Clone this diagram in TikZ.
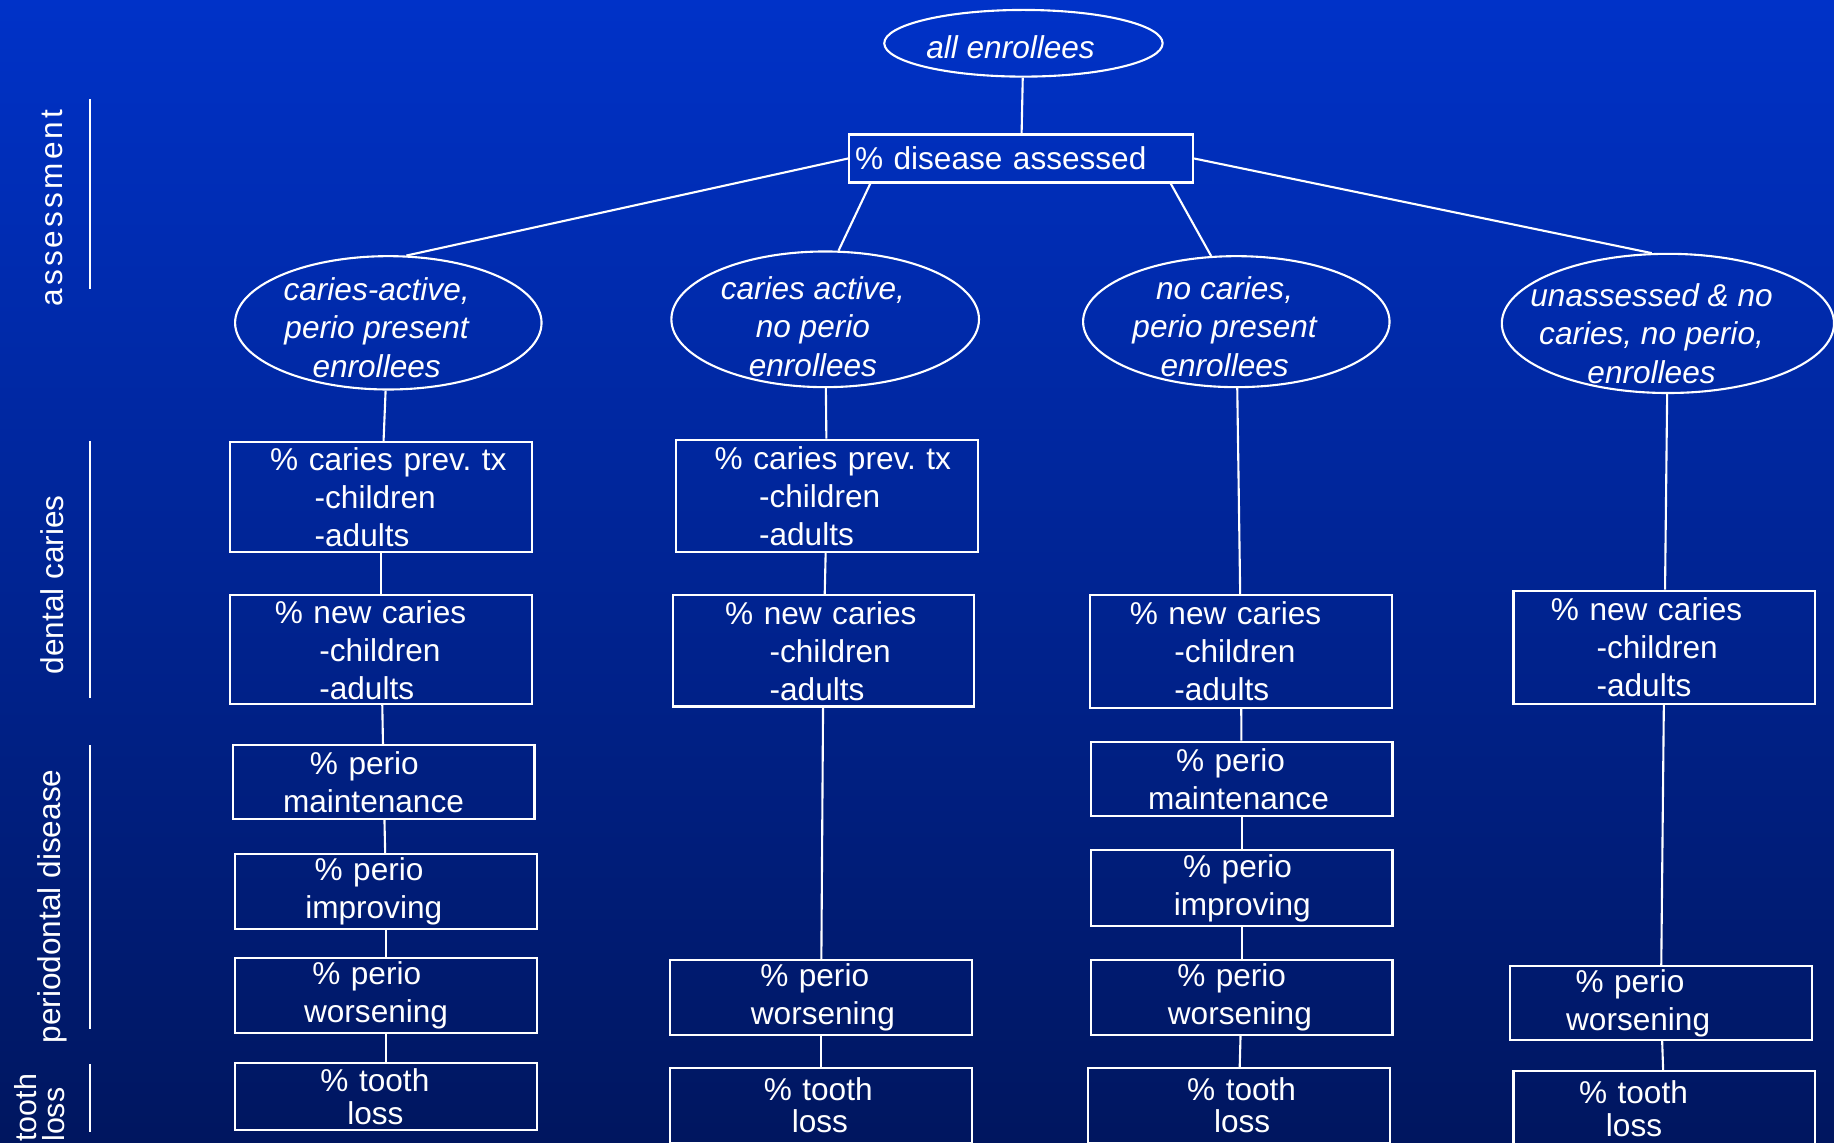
\documentclass[tikz,border=0pt]{standalone}
\usepackage{fontspec}
\setmainfont{Liberation Sans}
\usetikzlibrary{shapes.geometric}
\newcommand{\shiftin}[1]{\hspace*{#1pt}}
\definecolor{slidetop}{RGB}{0,50,200}
\definecolor{slidebot}{RGB}{0,22,95}

\begin{document}
\begin{tikzpicture}[x=1pt,y=-1pt,line width=1.8pt,color=white]
  \tikzstyle{every node}=[text=white,font=\fontsize{27}{32.5}\selectfont]
  \tikzstyle{oval}=[draw,ellipse,inner sep=0pt]
  \tikzstyle{ovaltext}=[align=center,font=\fontsize{27}{33}\selectfont\itshape]
  \tikzstyle{mbox}=[draw,text width=258pt,inner xsep=0pt,inner ysep=0pt,align=left]
  \tikzstyle{lossbox}=[mbox,font=\fontsize{27}{28}\selectfont]
  \tikzstyle{sidelabel}=[rotate=90,inner sep=0pt]

  \useasboundingbox (0,0) rectangle (1568,977);
  \shade[top color=slidetop,bottom color=slidebot] (0,0) rectangle (1568,977);

  % stages on the left
  \node[sidelabel] (assesslab) at (45,178) {\addfontfeatures{LetterSpace=10}assessment};
  \node[sidelabel] (carieslab) at (45,500) {dental caries};
  \node[sidelabel] (periolab) at (45,775) {periodontal disease};
  \node[sidelabel,align=left,anchor=south west,font=\fontsize{26}{24}\selectfont] (losslab) at (56,977) {tooth\\loss};
  \draw (77,85) -- (77,247);
  \draw (77,377) -- (77,597);
  \draw (77,637) -- (77,880);
  \draw (77,910) -- (77,968);

  % top
  \node[oval,minimum width=238pt,minimum height=57pt] (all) at (875,37) {};
  \node[ovaltext] (allt) at (864,40) {all enrollees};
  \node[mbox,text width=294pt,minimum height=41pt] (assessed) at (873,135.5) {\shiftin{5}\% disease assessed};

  % enrollee groups
  \node[oval,minimum width=262pt,minimum height=114pt] (act) at (332,276) {};
  \node[ovaltext] (actt) at (322,280) {caries-active,\\perio present\\enrollees};
  \node[oval,minimum width=263pt,minimum height=116pt] (actnp) at (705.5,273) {};
  \node[ovaltext] (actnpt) at (695,279) {caries active,\\no perio\\enrollees};
  \node[oval,minimum width=262pt,minimum height=112pt] (per) at (1057,275) {};
  \node[ovaltext] (pert) at (1047,279) {no caries,\\perio present\\enrollees};
  \node[oval,minimum width=284pt,minimum height=119pt] (rest) at (1426,276.5) {};
  \node[ovaltext] (restt) at (1412,285) {unassessed \& no\\caries, no perio,\\enrollees};

  \draw (assessed.west) -- (act.75);
  \draw ([xshift=19pt]assessed.south west) -- (actnp.79);
  \draw ([xshift=-20pt]assessed.south east) -- (per.111);
  \draw (assessed.east) -- (rest.103);

  % column 1
  \node[mbox,minimum height=94pt] (prev1) at (326,425) {\shiftin{34}\% caries prev.\ tx\\\shiftin{72}-children\\\shiftin{72}-adults};
  \node[mbox,minimum height=93pt] (new1) at (326,555.5) {\shiftin{38}\% new caries\\\shiftin{76}-children\\\shiftin{76}-adults};
  \node[mbox,minimum height=63pt] (maint1) at (328,668.5) {\shiftin{66}\% perio\\\shiftin{43}maintenance};
  \node[mbox,minimum height=64pt] (impr1) at (330,762) {\shiftin{68}\% perio\\\shiftin{60}improving};
  \node[mbox,minimum height=64pt] (worse1) at (330,851) {\shiftin{66}\% perio\\\shiftin{59}worsening};
  \node[lossbox,minimum height=57pt] (loss1) at (330,937.5) {\shiftin{73}\% tooth\\\shiftin{96}loss};

  % column 2
  \node[mbox,minimum height=96pt] (prev2) at (707,424) {\shiftin{33}\% caries prev.\ tx\\\shiftin{71}-children\\\shiftin{71}-adults};
  \node[mbox,minimum height=95pt] (new2) at (704,556.5) {\shiftin{45}\% new caries\\\shiftin{83}-children\\\shiftin{83}-adults};
  \node[mbox,minimum height=64pt] (worse2) at (702,853) {\shiftin{77}\% perio\\\shiftin{69}worsening};
  \node[lossbox,minimum height=64pt] (loss2) at (702,945) {\shiftin{80}\% tooth\\\shiftin{104}loss};

  % column 3
  \node[mbox,minimum height=96pt] (new3) at (1061,557) {\shiftin{34}\% new caries\\\shiftin{72}-children\\\shiftin{72}-adults};
  \node[mbox,minimum height=64pt] (maint3) at (1061.5,666) {\shiftin{73}\% perio\\\shiftin{49}maintenance};
  \node[mbox,minimum height=65pt] (impr3) at (1061.5,759.5) {\shiftin{79}\% perio\\\shiftin{71}improving};
  \node[mbox,minimum height=64pt] (worse3) at (1061.5,853) {\shiftin{74}\% perio\\\shiftin{66}worsening};
  \node[lossbox,minimum height=64pt] (loss3) at (1059,945) {\shiftin{85}\% tooth\\\shiftin{108}loss};

  % column 4
  \node[mbox,minimum height=97pt] (new4) at (1423,553.5) {\shiftin{32}\% new caries\\\shiftin{71}-children\\\shiftin{71}-adults};
  \node[mbox,minimum height=63pt] (worse4) at (1420,857.5) {\shiftin{56}\% perio\\\shiftin{48}worsening};
  \node[lossbox,minimum height=64pt] (loss4) at (1423,948) {\shiftin{56}\% tooth\\\shiftin{79}loss};

  \foreach \a/\b in {all/assessed,
      act/prev1, prev1/new1, new1/maint1, maint1/impr1, impr1/worse1, worse1/loss1,
      actnp/prev2, prev2/new2, new2/worse2, worse2/loss2,
      per/new3, new3/maint3, maint3/impr3, impr3/worse3, worse3/loss3,
      rest/new4, new4/worse4, worse4/loss4}
    \draw (\a) -- (\b);
\end{tikzpicture}
\end{document}
